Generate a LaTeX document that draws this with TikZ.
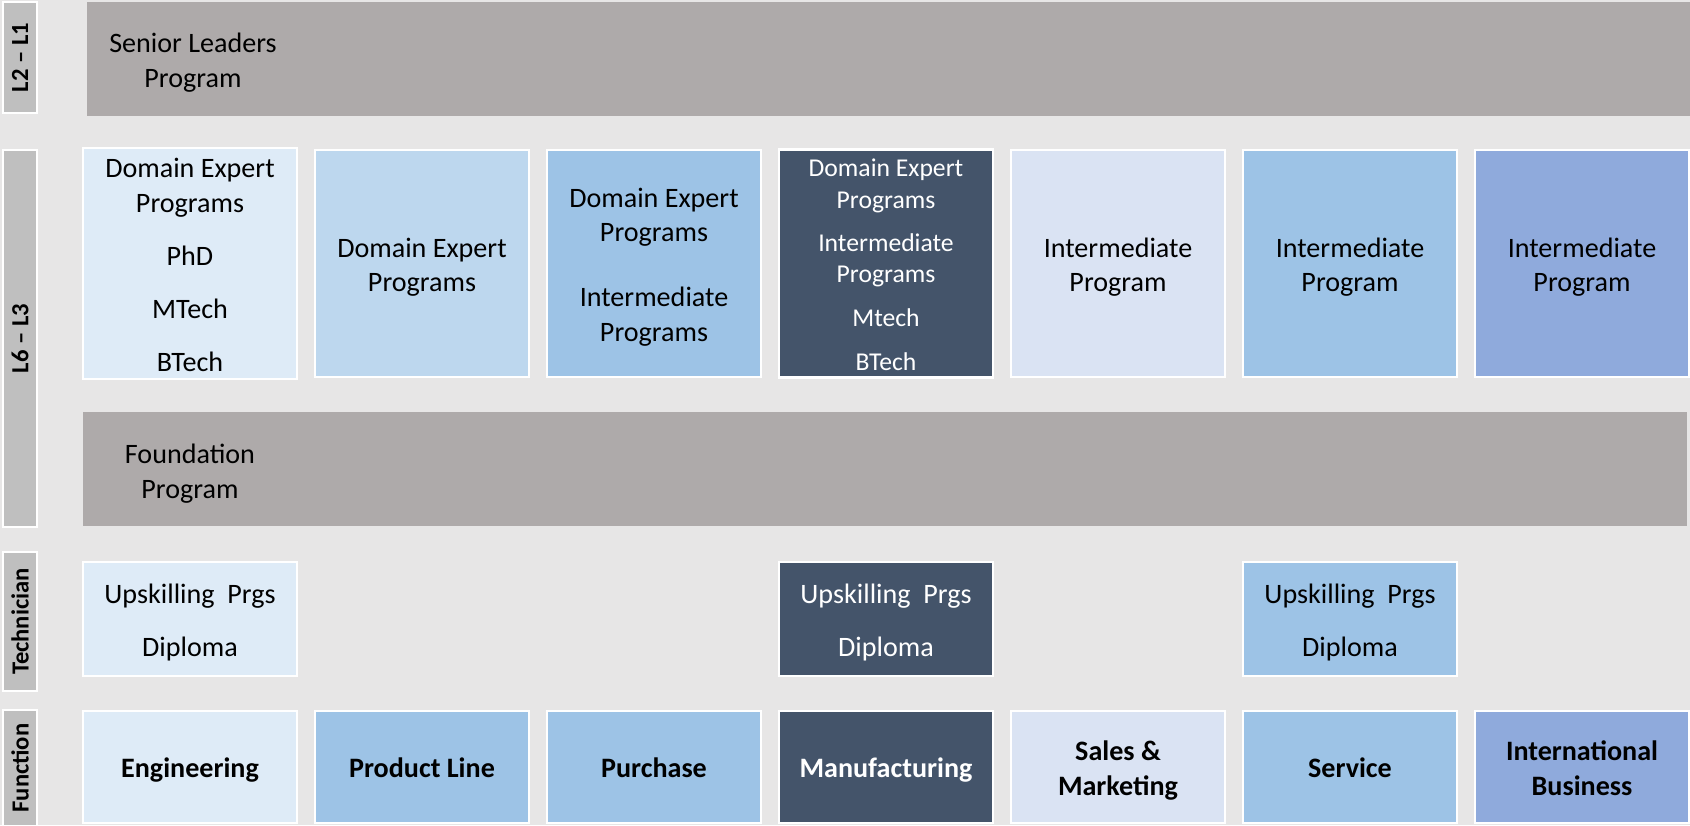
\documentclass[tikz,border=0pt]{standalone}
\usepackage{fontspec}
\setmainfont{Carlito}
\usepackage{xcolor}

\definecolor{pagegray}{HTML}{E7E6E6}
\definecolor{bargray}{HTML}{AEAAAA}
\definecolor{tabgray}{HTML}{BFBFBF}
\definecolor{paleblue}{HTML}{DEEBF7}
\definecolor{softblue}{HTML}{BDD7EE}
\definecolor{midblue}{HTML}{9DC3E6}
\definecolor{navyblue}{HTML}{44546A}
\definecolor{lavblue}{HTML}{DAE3F3}
\definecolor{deepblue}{HTML}{8FAADC}

\newdimen\pxu \pxu=0.02cm

\tikzset{
  struts/.style={text width=200\pxu, align=flush center,
    execute at begin node={\rule{0pt}{1.06em}},
    execute at end node={\rule[-0.28em]{0pt}{0pt}}},
  tab/.style={fill=tabgray, draw=white, line width=1.4pt, rotate=90,
    minimum height=34\pxu, inner sep=0pt,
    font=\fontsize{14}{17}\selectfont\bfseries},
  bar/.style={fill=bargray, minimum height=114\pxu, inner sep=0pt},
  bartext/.style={inner sep=0pt, struts,
    font=\fontsize{16}{19.5}\selectfont},
  cell/.style={fill=#1, draw=white, line width=1.4pt,
    minimum width=214\pxu, inner sep=0pt, struts,
    font=\fontsize{16}{19.5}\selectfont},
  prog/.style={cell=#1, minimum height=227\pxu},
  tech/.style={cell=#1, minimum height=114\pxu},
  func/.style={cell=#1, minimum height=112\pxu,
    font=\fontsize{16}{19.5}\selectfont\bfseries}
}

\begin{document}
\begin{tikzpicture}[x=0.02cm, y=-0.02cm]

\fill[pagegray] (0,0) rectangle (1690,825);
\useasboundingbox (0,0) rectangle (1690,825);

%%% --- Level tabs --- %%%
\node[tab, minimum width=111\pxu] (tabtop)  at (20,57.5)  {L2 -- L1};
\node[tab, minimum width=377\pxu] (tabmid)  at (20,338.5) {L6 -- L3};
\node[tab, minimum width=139\pxu] (tabtech) at (20,621.5) {Technician};
\node[tab, minimum width=116\pxu] (tabfunc) at (20,768)   {Function};


%%% --- Senior leaders bar --- %%%
\node[bar, minimum width=1603\pxu] (senior) at (888.5,59) {};
\node[bartext] (seniorlbl) at (193,59) {Senior Leaders\\Program};


%%% --- L6 - L3 programs --- %%%
\node[prog=paleblue] (pEng) at (190,263.5)
  {Domain Expert\\Programs\\[10.7pt]PhD\\[10.7pt]MTech\\[10.7pt]BTech};
\node[prog=softblue] (pProd) at (422,263.5) {Domain Expert\\Programs};
\node[prog=midblue] (pPur) at (654,263.5)
  {Domain Expert\\Programs\\[17.5pt]Intermediate\\Programs};
\node[prog=navyblue, text=white, font=\fontsize{14.6}{17.8}\selectfont]
  (pMfg) at (886,263.5)
  {Domain Expert\\Programs\\[7pt]Intermediate\\Programs\\[7pt]Mtech\\[7pt]BTech};
\node[prog=lavblue] (pSal) at (1118,263.5) {Intermediate\\Program};
\node[prog=midblue] (pSer) at (1350,263.5) {Intermediate\\Program};
\node[prog=deepblue] (pInt) at (1582,263.5) {Intermediate\\Program};


%%% --- Foundation bar --- %%%
\node[bar, minimum width=1604\pxu] (found) at (885,469) {};
\node[bartext] (foundlbl) at (190,470) {Foundation\\Program};


%%% --- Technician programs --- %%%
\node[tech=paleblue] (tEng) at (190,619) {Upskilling\ \ Prgs\\[10.7pt]Diploma};
\node[tech=navyblue, text=white] (tMfg) at (886,619) {Upskilling\ \ Prgs\\[10.7pt]Diploma};
\node[tech=midblue] (tSer) at (1350,619) {Upskilling\ \ Prgs\\[10.7pt]Diploma};


%%% --- Functions --- %%%
\node[func=paleblue] (fEng) at (190,767) {Engineering};
\node[func=midblue] (fProd) at (422,767) {Product Line};
\node[func=midblue] (fPur) at (654,767) {Purchase};
\node[func=navyblue, text=white] (fMfg) at (886,767) {Manufacturing};
\node[func=lavblue] (fSal) at (1118,767) {Sales \&\\Marketing};
\node[func=midblue] (fSer) at (1350,767) {Service};
\node[func=deepblue] (fInt) at (1582,767) {International\\Business};

\end{tikzpicture}
\end{document}
